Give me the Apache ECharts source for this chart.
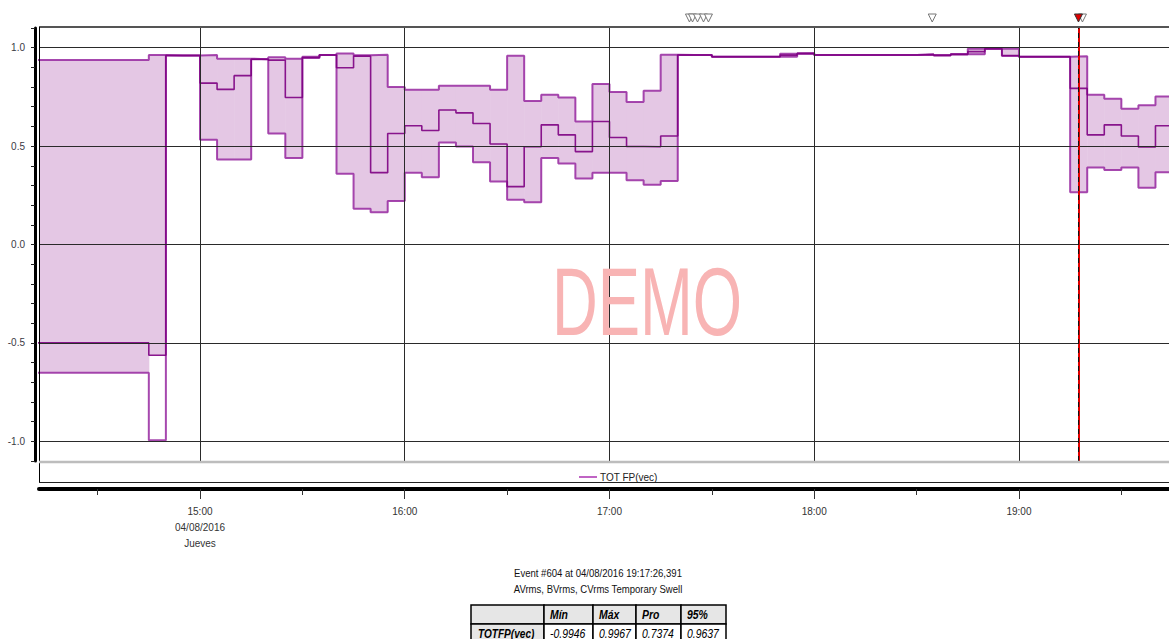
<!DOCTYPE html>
<html>
<head>
<meta charset="utf-8">
<script src="https://cdn.jsdelivr.net/npm/echarts@6/dist/echarts.min.js"></script>
<style>
  html, body { margin: 0; padding: 0; background: #fff; }
  #chart { width: 1169px; height: 639px; }
</style>
</head>
<body>
<div id="chart"></div>
<script>
// TOT FP(vec) per 5-minute interval: each value holds from its start time to the next start
const intervalStart = [
  '14:10', '14:45', '14:50', '14:55',
  '15:00', '15:05', '15:10', '15:15', '15:20', '15:25', '15:30', '15:35', '15:40', '15:45', '15:50', '15:55',
  '16:00', '16:05', '16:10', '16:15', '16:20', '16:25', '16:30', '16:35', '16:40', '16:45', '16:50', '16:55',
  '17:00', '17:05', '17:10', '17:15', '17:20', '17:25', '17:30', '17:35', '17:40', '17:45', '17:50', '17:55',
  '18:00', '18:05', '18:10', '18:15', '18:20', '18:25', '18:30', '18:35', '18:40', '18:45', '18:50', '18:55',
  '19:00', '19:05', '19:10', '19:15', '19:20', '19:25', '19:30', '19:35', '19:40', '19:45'
];
const intervalEnd = '19:50';

const fpMax = [
  0.937, 0.963, 0.960, 0.960,
  0.963, 0.944, 0.944, 0.941, 0.951, 0.944, 0.954, 0.963, 0.971, 0.961, 0.964, 0.800,
  0.786, 0.786, 0.807, 0.807, 0.807, 0.786, 0.959, 0.729, 0.761, 0.747, 0.625, 0.815,
  0.775, 0.724, 0.781, 0.964, 0.963, 0.963, 0.954, 0.954, 0.954, 0.954, 0.969, 0.971,
  0.963, 0.963, 0.963, 0.963, 0.963, 0.963, 0.965, 0.961, 0.966, 0.995, 0.995, 0.995,
  0.954, 0.954, 0.954, 0.956, 0.761, 0.740, 0.690, 0.708, 0.752, 0.752
];
const fpAvg = [
  -0.500, -0.563, 0.960, 0.960,
  0.820, 0.788, 0.858, 0.941, 0.937, 0.747, 0.950, 0.963, 0.898, 0.957, 0.365, 0.564,
  0.603, 0.579, 0.683, 0.669, 0.615, 0.511, 0.294, 0.497, 0.608, 0.557, 0.472, 0.625,
  0.544, 0.498, 0.497, 0.551, 0.963, 0.963, 0.954, 0.954, 0.954, 0.954, 0.962, 0.971,
  0.963, 0.963, 0.963, 0.963, 0.963, 0.963, 0.965, 0.961, 0.966, 0.980, 0.995, 0.960,
  0.954, 0.954, 0.954, 0.793, 0.557, 0.608, 0.551, 0.496, 0.603, 0.603
];
const fpMin = [
  -0.652, -0.995, 0.960, 0.960,
  0.532, 0.432, 0.432, 0.941, 0.564, 0.439, 0.947, 0.963, 0.360, 0.182, 0.164, 0.221,
  0.365, 0.342, 0.518, 0.498, 0.418, 0.320, 0.228, 0.215, 0.439, 0.411, 0.335, 0.365,
  0.365, 0.327, 0.303, 0.322, 0.963, 0.963, 0.954, 0.954, 0.954, 0.954, 0.954, 0.971,
  0.963, 0.963, 0.963, 0.963, 0.963, 0.963, 0.965, 0.961, 0.966, 0.966, 0.995, 0.958,
  0.954, 0.954, 0.954, 0.266, 0.391, 0.379, 0.391, 0.288, 0.367, 0.367
];
// intervals whose min/max shading only reaches down to the average
const shadeToAvg = ['14:45'];

// time axis
const viewStart = '14:12:49';
const viewEnd = '19:43:58';
const hourTicks = ['15:00', '16:00', '17:00', '18:00', '19:00'];
const halfHourTicks = ['14:30', '15:30', '16:30', '17:30', '18:30', '19:30'];
const firstDayLines = ['04/08/2016', 'Jueves'];

// value axis
const yMin = -1.1;
const yMax = 1.1;
const yStep = 0.1;
const yLabelTicks = [1.0, 0.5, 0.0, -0.5, -1.0];

// event markers along the top edge
const eventTimes = ['17:23:26', '17:24:20', '17:25:48', '17:27:33', '17:29:00', '18:34:35', '19:18:36'];
const selectedEvent = '19:17:26';

// event summary below the chart
const eventTitle = 'Event #604 at 04/08/2016 19:17:26,391';
const eventDesc = 'AVrms, BVrms, CVrms Temporary Swell';
const statHeaders = ['Mín', 'Máx', 'Pro', '95%'];
const statRowName = 'TOTFP(vec)';
const statValues = ['-0.9946', '0.9967', '0.7374', '0.9637'];

const seriesName = 'TOT FP(vec)';
const FONT = '"Liberation Sans Narrow", "Arial Narrow", "Liberation Sans", Arial, sans-serif';
const SQUEEZE = 0.87;   // condensed look for the summary text
const SHADE = '#e4c7e4';
const EDGE = 'rgba(150, 40, 160, 0.85)';
const MID = 'rgba(125, 0, 130, 0.9)';

function toMin(t) {
  const p = t.split(':').map(Number);
  return p[0] * 60 + p[1] + (p[2] || 0) / 60;
}
function hhmm(m) {
  const h = Math.floor(m / 60), mm = Math.round(m - h * 60);
  return String(h).padStart(2, '0') + ':' + String(mm).padStart(2, '0');
}

const starts = intervalStart.map(toMin);
const ends = starts.slice(1).concat([toMin(intervalEnd)]);

const shadeData = starts.map((s, i) => [
  s, ends[i],
  shadeToAvg.includes(intervalStart[i]) ? fpAvg[i] : fpMin[i],
  fpMax[i]
]);
function stepData(vals) {
  const d = starts.map((s, i) => [s, vals[i]]);
  d.push([toMin(intervalEnd), vals[vals.length - 1]]);
  return d;
}

const chart = echarts.init(document.getElementById('chart'), null, { renderer: 'svg' });

const gridTop = 28, gridHeight = 433, gridLeft = 39;

const option = {
  animation: false,
  backgroundColor: '#fff',
  textStyle: { fontFamily: FONT },
  grid: { left: gridLeft, right: 0, top: gridTop, height: gridHeight, containLabel: false },
  legend: {
    left: 574, top: 467,
    icon: 'rect', itemWidth: 18, itemHeight: 2, selectedMode: false,
    textStyle: { fontFamily: FONT, fontSize: 10, color: '#222', padding: [0, 0, 0, -2] },
    data: [{ name: seriesName, itemStyle: { color: '#c064c4' } }]
  },
  xAxis: [{
    type: 'value',
    min: toMin(viewStart), max: toMin(viewEnd),
    position: 'bottom', offset: 28,
    axisLine: { show: true, onZero: false, lineStyle: { color: '#000', width: 4 } },
    axisTick: { show: true, customValues: hourTicks.map(toMin), length: 10, lineStyle: { color: '#333', width: 1 } },
    axisLabel: {
      customValues: hourTicks.map(toMin),
      margin: 14, lineHeight: 16,
      fontFamily: FONT, fontSize: 10, color: '#333',
      formatter: (v) => {
        const s = hhmm(v);
        return s === hourTicks[0] ? [s].concat(firstDayLines).join('\n') : s;
      },
      verticalAlign: 'top'
    },
    splitLine: { show: false }
  }, {
    type: 'value',
    min: toMin(viewStart), max: toMin(viewEnd),
    position: 'bottom', offset: 28,
    axisLine: { show: false, onZero: false },
    axisTick: { show: true, customValues: halfHourTicks.map(toMin), length: 6, lineStyle: { color: '#333', width: 1 } },
    axisLabel: { show: false },
    splitLine: { show: false }
  }],
  yAxis: {
    type: 'value', min: yMin, max: yMax, interval: yStep,
    offset: 4,
    axisLine: { show: true, onZero: false, lineStyle: { color: '#000', width: 3 } },
    axisTick: { show: true, length: 4, lineStyle: { color: '#222' } },
    axisLabel: {
      customValues: yLabelTicks,
      formatter: (v) => v.toFixed(1),
      margin: 10, fontFamily: FONT, fontSize: 10, color: '#3a3a44'
    },
    splitLine: { show: false }
  },
  series: [
    {
      name: 'band',
      type: 'custom',
      z: 1,
      clip: true,
      silent: true,
      encode: { x: [0, 1], y: [2, 3] },
      data: shadeData,
      renderItem: (params, api) => {
        const a = api.coord([api.value(0), api.value(3)]);
        const b = api.coord([api.value(1), api.value(2)]);
        return {
          type: 'rect',
          shape: { x: a[0], y: a[1], width: b[0] - a[0] + 0.5, height: b[1] - a[1] },
          style: { fill: SHADE }
        };
      }
    },
    {
      name: 'grid lines',
      type: 'line',
      z: 2,
      data: [],
      markLine: {
        silent: true, symbol: 'none', animation: false,
        label: { show: false },
        lineStyle: { color: '#2a2a2a', width: 1, type: 'solid' },
        data: yLabelTicks.map(v => ({ yAxis: v })).concat(hourTicks.map(t => ({ xAxis: toMin(t) })))
      }
    },
    {
      name: 'max', type: 'line', step: 'end', z: 3, showSymbol: false, silent: true,
      lineStyle: { color: EDGE, width: 2 }, data: stepData(fpMax)
    },
    {
      name: 'min', type: 'line', step: 'end', z: 3, showSymbol: false, silent: true,
      lineStyle: { color: EDGE, width: 2 }, data: stepData(fpMin)
    },
    {
      name: seriesName, type: 'line', step: 'end', z: 4, showSymbol: false, silent: true,
      itemStyle: { color: '#c064c4' },
      lineStyle: { color: MID, width: 1.6 }, data: stepData(fpAvg)
    },
    {
      name: 'event line', type: 'line', z: 5, data: [],
      markLine: {
        silent: true, symbol: 'none', animation: false, label: { show: false },
        lineStyle: { color: '#e00000', width: 2, type: 'solid' },
        data: [{ xAxis: toMin(selectedEvent) }]
      }
    },
    {
      name: 'event line dash', type: 'line', z: 6, data: [],
      markLine: {
        silent: true, symbol: 'none', animation: false, label: { show: false },
        lineStyle: { color: '#111', width: 1, type: [5, 4] },
        data: [{ xAxis: toMin(selectedEvent) }]
      }
    },
    {
      name: 'events', type: 'custom', z: 7, clip: false, silent: true,
      data: eventTimes.map(t => [toMin(t)]).concat([[toMin(selectedEvent), 1]]),
      encode: { x: 0 },
      renderItem: (params, api) => {
        const p = api.coord([api.value(0), yMax]);
        const sel = api.value(1) === 1;
        const x = p[0], top = p[1] - 14;
        return {
          type: 'polygon',
          shape: { points: [[x - 4, top], [x + 4, top], [x, top + 8]] },
          style: { fill: sel ? '#e00000' : '#fff', stroke: sel ? '#333' : '#777', lineWidth: 1 }
        };
      }
    }
  ],
  graphic: []
};

// frame around the plot and the legend strip
const W = 1169;
const g = option.graphic;
g.push({ type: 'line', silent: true, shape: { x1: gridLeft, y1: 27, x2: W, y2: 27 }, style: { stroke: '#555', lineWidth: 2 }, z: 50 });
g.push({ type: 'line', silent: true, shape: { x1: gridLeft + 0.5, y1: 27, x2: gridLeft + 0.5, y2: 482 }, style: { stroke: '#000', lineWidth: 1 }, z: 50 });
g.push({ type: 'line', silent: true, shape: { x1: gridLeft, y1: 462, x2: W, y2: 462 }, style: { stroke: '#bdbdbd', lineWidth: 2.5 }, z: 50 });
g.push({ type: 'line', silent: true, shape: { x1: gridLeft, y1: 482.5, x2: W, y2: 482.5 }, style: { stroke: '#222', lineWidth: 1 }, z: 50 });

// watermark
g.push({
  type: 'text', silent: true, z: 40,
  x: 647, y: 301, scaleX: 0.66,
  style: { text: 'DEMO', fill: '#f8b4b4', font: '96px "Liberation Sans", Arial, sans-serif', textAlign: 'center', textVerticalAlign: 'middle' }
});

// event summary
g.push({ type: 'text', silent: true, x: 598, y: 573, scaleX: SQUEEZE, style: { text: eventTitle, fill: '#111', font: '11px ' + FONT, textAlign: 'center', textVerticalAlign: 'middle' } });
g.push({ type: 'text', silent: true, x: 598, y: 589, scaleX: SQUEEZE, style: { text: eventDesc, fill: '#111', font: '11px ' + FONT, textAlign: 'center', textVerticalAlign: 'middle' } });

// statistics table
const colX = [471, 544, 593, 636, 681, 726];
const rowY = [605, 624, 643];
const HEAD_BG = '#e6e6e6';
for (let r = 0; r < 2; r++) {
  for (let c = 0; c < 5; c++) {
    const grey = r === 0 || c === 0;
    g.push({
      type: 'rect', silent: true, z: 30,
      shape: { x: colX[c], y: rowY[r], width: colX[c + 1] - colX[c], height: rowY[r + 1] - rowY[r] },
      style: { fill: grey ? HEAD_BG : '#fff', stroke: '#000', lineWidth: 1.5 }
    });
  }
}
statHeaders.forEach((h, i) => {
  g.push({ type: 'text', silent: true, z: 31, x: colX[i + 1] + 6, y: (rowY[0] + rowY[1]) / 2, scaleX: SQUEEZE,
    style: { text: h, fill: '#000', font: 'italic bold 12px ' + FONT, textVerticalAlign: 'middle' } });
});
g.push({ type: 'text', silent: true, z: 31, x: colX[0] + 7, y: (rowY[1] + rowY[2]) / 2, scaleX: 0.84,
  style: { text: statRowName, fill: '#000', font: 'italic bold 12px ' + FONT, textVerticalAlign: 'middle' } });
statValues.forEach((v, i) => {
  g.push({ type: 'text', silent: true, z: 31, x: colX[i + 1] + 6, y: (rowY[1] + rowY[2]) / 2, scaleX: SQUEEZE,
    style: { text: v, fill: '#000', font: 'italic 12px ' + FONT, textVerticalAlign: 'middle' } });
});

chart.setOption(option);
</script>
</body>
</html>
